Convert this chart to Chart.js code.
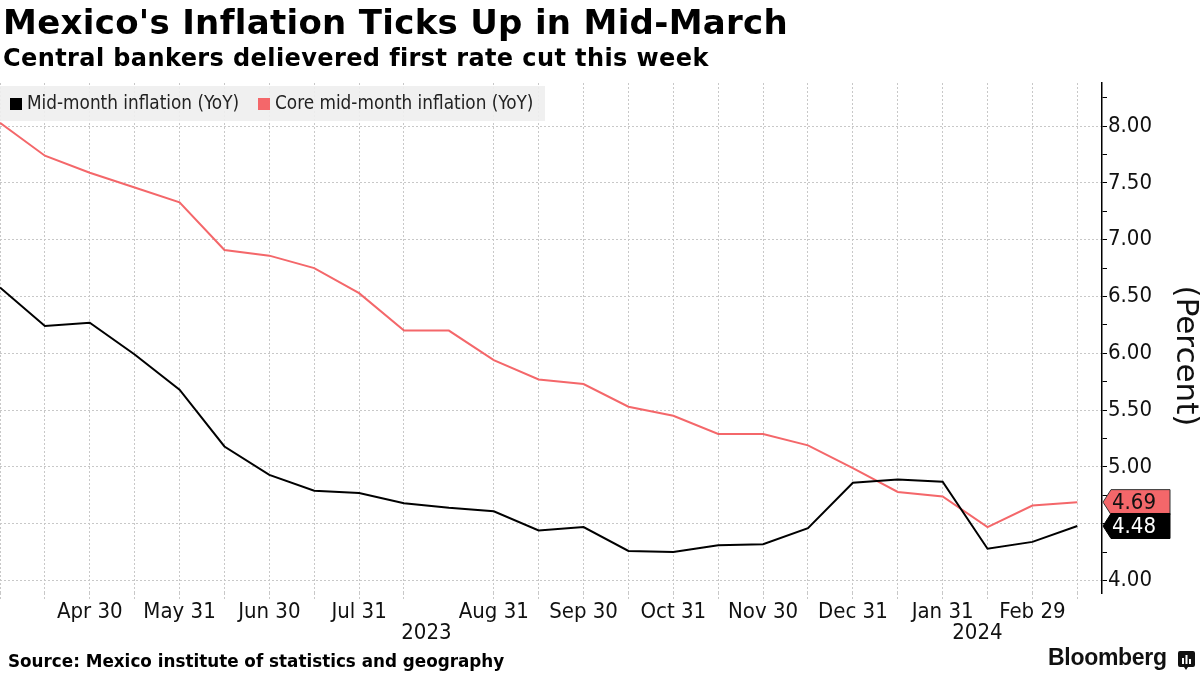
<!DOCTYPE html>
<html>
<head>
<meta charset="utf-8">
<script src="https://cdn.jsdelivr.net/npm/chart.js@4.4.1/dist/chart.umd.min.js"></script>
<style>
  body { margin: 0; width: 1200px; height: 675px; overflow: hidden; background: #fff; position: relative; }
  #title { position: absolute; left: 3px; top: 2px; font: bold 34px 'DejaVu Sans', sans-serif; letter-spacing: 0.3px; color: #000; white-space: nowrap; }
  #subtitle { position: absolute; left: 3px; top: 44px; font: bold 24px 'DejaVu Sans', sans-serif; letter-spacing: 0.4px; color: #000; white-space: nowrap; }
  #wrap { position: absolute; left: 0; top: 0; width: 1200px; height: 675px; }
  #legend { position: absolute; left: 0; top: 86px; width: 545px; height: 35px; background: rgba(238,238,238,0.9);
            font: 18.8px 'DejaVu Sans Condensed', 'DejaVu Sans', sans-serif; color: #222; }
  #legend span.sw { position: absolute; top: 12px; width: 12px; height: 12px; }
  #legend span.tx { position: absolute; top: 6px; white-space: nowrap; }
  #source { position: absolute; left: 8px; top: 651px; font: bold 16.8px 'DejaVu Sans', sans-serif; color: #000; white-space: nowrap; }
  #brand { position: absolute; left: 1048px; top: 644px; font: bold 23px 'Liberation Sans', Arial, sans-serif; color: #111; letter-spacing: -0.3px; }
  #logo { position: absolute; left: 1178px; top: 651px; }
</style>
</head>
<body>
<div id="wrap"><canvas id="chart" width="1200" height="675"></canvas></div>
<div id="title">Mexico's Inflation Ticks Up in Mid-March</div>
<div id="subtitle">Central bankers delievered first rate cut this week</div>
<div id="legend">
  <span class="sw" style="left:10px;background:#000"></span><span class="tx" style="left:27px">Mid-month inflation (YoY)</span>
  <span class="sw" style="left:258px;background:#f4676a"></span><span class="tx" style="left:275px">Core mid-month inflation (YoY)</span>
</div>
<div id="source">Source: Mexico institute of statistics and geography</div>
<div id="brand">Bloomberg</div>
<svg id="logo" width="17" height="19" viewBox="0 0 17 19">
  <path d="M2 0h13a2 2 0 0 1 2 2v12a2 2 0 0 1-2 2h-5l-2 3-2-3H2a2 2 0 0 1-2-2V2a2 2 0 0 1 2-2z" fill="#111"/>
  <rect x="4" y="7" width="2" height="6" fill="#fff"/><rect x="7.5" y="4" width="2" height="9" fill="#fff"/><rect x="11" y="8" width="2" height="5" fill="#fff"/>
</svg>
<script>
// half-month points, Mar 2023 .. mid-Mar 2024 (only month ends get a label)
const xTickLabels = ['', '', 'Apr 30', '', 'May 31', '', 'Jun 30', '', 'Jul 31', '', '', 'Aug 31', '',
  'Sep 30', '', 'Oct 31', '', 'Nov 30', '', 'Dec 31', '', 'Jan 31', '', 'Feb 29', ''];
const midMonth = [6.58, 6.24, 6.27, 5.99, 5.68, 5.18, 4.93, 4.79, 4.77, 4.68, 4.64, 4.61, 4.44,
  4.47, 4.26, 4.25, 4.31, 4.32, 4.46, 4.86, 4.89, 4.87, 4.28, 4.34, 4.48];
const coreMidMonth = [8.03, 7.74, 7.59, 7.46, 7.33, 6.91, 6.86, 6.75, 6.53, 6.20, 6.20, 5.94, 5.77,
  5.73, 5.53, 5.45, 5.29, 5.29, 5.19, 4.99, 4.78, 4.74, 4.47, 4.66, 4.69];
const yTicks = [4.00, 4.50, 5.00, 5.50, 6.00, 6.50, 7.00, 7.50, 8.00];
const yMinorTicks = [4.25, 4.75, 5.25, 5.75, 6.25, 6.75, 7.25, 7.75, 8.25];
const years = ['2023', '2024'];
const yearStartIdx = [0, 19];
const noGridIdx = [10];
const unitLabel = '(Percent)';

const gridGray = '#c8c8c8';
const tickFont = { family: 'DejaVu Sans Condensed', size: 22 };

const extras = {
  id: 'extras',
  afterDraw(chart) {
    const { ctx, scales: { x, y } } = chart;
    ctx.save();
    // year labels under the month ticks
    ctx.font = '22px "DejaVu Sans Condensed"';
    ctx.fillStyle = '#111';
    ctx.textAlign = 'center';
    ctx.textBaseline = 'middle';
    years.forEach((yr, i) => {
      const a = yearStartIdx[i];
      const b = i + 1 < yearStartIdx.length ? yearStartIdx[i + 1] : x.max;
      ctx.fillText(yr, (x.getPixelForValue(a) + x.getPixelForValue(b)) / 2, 633);
    });

    // unit label, rotated, right of the axis
    ctx.save();
    ctx.translate(1185, 356);
    ctx.rotate(Math.PI / 2);
    ctx.font = '31px "DejaVu Sans"';
    ctx.fillText(unitLabel, 0, 0);
    ctx.restore();

    // last value tags on the right axis
    const axisX = y.left;
    const tags = [
      { v: coreMidMonth[coreMidMonth.length - 1], bg: '#f4676a', fg: '#111', line: '#333' },
      { v: midMonth[midMonth.length - 1], bg: '#000', fg: '#fff', line: '#000' }
    ];
    tags.forEach(t => {
      const cy = y.getPixelForValue(t.v);
      ctx.beginPath();
      ctx.moveTo(axisX + 1, cy);
      ctx.lineTo(axisX + 9, cy - 12.5);
      ctx.lineTo(axisX + 68, cy - 12.5);
      ctx.lineTo(axisX + 68, cy + 12.5);
      ctx.lineTo(axisX + 9, cy + 12.5);
      ctx.closePath();
      ctx.fillStyle = t.bg;
      ctx.fill();
      ctx.lineWidth = 1;
      ctx.strokeStyle = t.line;
      ctx.stroke();
      ctx.fillStyle = t.fg;
      ctx.textAlign = 'left';
      ctx.font = '22px "DejaVu Sans Condensed"';
      ctx.fillText(t.v.toFixed(2), axisX + 10, cy + 1);
    });
    ctx.restore();
  }
};

new Chart(document.getElementById('chart'), {
  type: 'line',
  data: {
    datasets: [{
      label: 'Mid-month inflation (YoY)',
      data: midMonth.map((v, i) => ({ x: i, y: v })),
      borderColor: '#000',
      borderWidth: 2,
      pointRadius: 0,
      tension: 0
    }, {
      label: 'Core mid-month inflation (YoY)',
      data: coreMidMonth.map((v, i) => ({ x: i, y: v })),
      borderColor: '#f4676a',
      borderWidth: 2,
      pointRadius: 0,
      tension: 0
    }]
  },
  options: {
    responsive: false,
    animation: false,
    layout: { padding: { left: 0, top: 83, right: 0, bottom: 0 } },
    plugins: {
      legend: { display: false },
      tooltip: { enabled: false }
    },
    scales: {
      x: {
        type: 'linear',
        min: 0,
        max: 24.55,
        afterBuildTicks: s => { s.ticks = xTickLabels.map((_, i) => ({ value: i })); },
        afterFit: s => { s.height = 82; },
        border: { display: false, dash: [2, 2] },
        grid: {
          color: c => (c.tick && noGridIdx.includes(c.tick.value)) ? 'rgba(0,0,0,0)' : gridGray,
          tickColor: c => (c.tick && noGridIdx.includes(c.tick.value)) ? 'rgba(0,0,0,0)' : gridGray,
          tickLength: 6,
          tickBorderDash: [2, 2]
        },
        ticks: {
          autoSkip: false,
          maxRotation: 0,
          padding: 0,
          color: '#111',
          font: tickFont,
          callback: v => xTickLabels[v] || ''
        }
      },
      y: {
        type: 'linear',
        position: 'right',
        min: 3.89,
        max: 8.38,
        afterBuildTicks: s => {
          s.ticks = yTicks.concat(yMinorTicks).sort((a, b) => a - b).map(v => ({ value: v }));
        },
        afterFit: s => { s.width = 98; },
        border: { display: true, color: '#000', width: 1.5, dash: [2, 2] },
        grid: {
          color: c => (c.tick && yTicks.includes(c.tick.value)) ? gridGray : 'rgba(0,0,0,0)',
          tickColor: '#000',
          tickLength: 5
        },
        ticks: {
          autoSkip: false,
          padding: 1,
          color: '#111',
          font: tickFont,
          callback: v => yTicks.includes(v) ? v.toFixed(2) : ''
        }
      }
    }
  },
  plugins: [extras]
});
</script>
</body>
</html>
